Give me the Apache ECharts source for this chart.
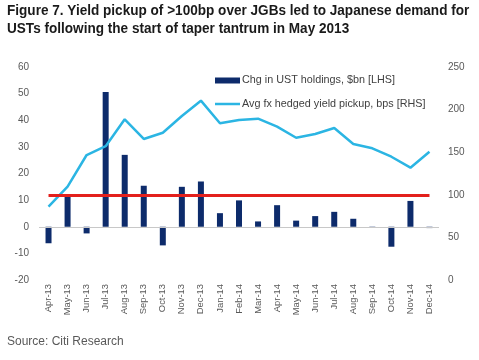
<!DOCTYPE html>
<html>
<head>
<meta charset="utf-8">
<script src="https://cdn.jsdelivr.net/npm/echarts@6/dist/echarts.min.js"></script>
<style>html,body{margin:0;padding:0;background:#fff;}#c{width:479px;height:360px;}</style>
</head>
<body>
<div id="c"></div>
<script>
const categories = ['Apr-13','May-13','Jun-13','Jul-13','Aug-13','Sep-13','Oct-13','Nov-13','Dec-13','Jan-14','Feb-14','Mar-14','Apr-14','May-14','Jun-14','Jul-14','Aug-14','Sep-14','Oct-14','Nov-14','Dec-14'];
const ustHoldings = [-6.2, 11.2, -2.5, 50.6, 27, 15.4, -7, 15, 17, 5.1, 9.9, 2.0, 8.1, 2.3, 4.0, 5.6, 3.0, -0.3, -7.5, 9.7, -0.5];
const yieldPickup = [86, 109.5, 146.7, 157, 188.6, 165.5, 172.9, 192.5, 210.5, 184, 187.8, 189.3, 180, 167, 171.4, 178.4, 159.6, 154.6, 144.7, 131.8, 150.6];
const threshold = 100;
const leftTicks = {min: -20, max: 60, interval: 10};
const rightTicks = {min: 0, max: 250, interval: 50};
const titleLines = ['Figure 7. Yield pickup of >100bp over JGBs led to Japanese demand for', 'USTs following the start of taper tantrum in May 2013'];
const sourceText = 'Source: Citi Research';

const FONT = "'Liberation Sans', Arial, sans-serif";
const chart = echarts.init(document.getElementById('c'));
chart.setOption({
  animation: false,
  backgroundColor: '#fff',
  graphic: [{
    type: 'text', x: 7, y: 3, scaleX: 0.905,
    style: {text: titleLines[0], font: 'bold 15px ' + FONT, fill: '#1a1a1a', verticalAlign: 'top'}
  }, {
    type: 'text', x: 7, y: 21, scaleX: 0.905,
    style: {text: titleLines[1], font: 'bold 15px ' + FONT, fill: '#1a1a1a', verticalAlign: 'top'}
  }, {
    type: 'text', x: 7, y: 336,
    style: {text: sourceText, font: '12px ' + FONT, fill: '#595959', verticalAlign: 'top'}
  }],
  legend: [{
    data: [{name: 'Chg in UST holdings, $bn [LHS]', icon: 'rect'}],
    left: 215, top: 75, padding: 0, itemWidth: 25, itemHeight: 6, itemGap: 4,
    textStyle: {fontFamily: FONT, fontSize: 10.8, color: '#404040', padding: [0,0,0,-3]}
  }, {
    data: [{name: 'Avg fx hedged yield pickup, bps [RHS]', icon: 'rect'}],
    left: 215, top: 98.5, padding: 0, itemWidth: 25, itemHeight: 2.5,
    textStyle: {fontFamily: FONT, fontSize: 10.8, color: '#404040', padding: [0,0,0,-3]}
  }],
  grid: {left: 39, right: 40, top: 67, bottom: 80},
  xAxis: {
    type: 'category', data: categories,
    axisLine: {show: false}, axisTick: {show: false},
    axisLabel: {rotate: 90, fontFamily: FONT, fontSize: 9.4, color: '#595959', margin: 4}
  },
  yAxis: [{
    type: 'value', min: leftTicks.min, max: leftTicks.max, interval: leftTicks.interval,
    splitLine: {show: false}, axisLine: {show: false}, axisTick: {show: false},
    axisLabel: {fontFamily: FONT, fontSize: 10, color: '#595959', margin: 10}
  }, {
    type: 'value', min: rightTicks.min, max: rightTicks.max, interval: rightTicks.interval,
    splitLine: {show: false}, axisLine: {show: false}, axisTick: {show: false},
    axisLabel: {fontFamily: FONT, fontSize: 10, color: '#595959', margin: 9}
  }],
  series: [{
    name: 'Chg in UST holdings, $bn [LHS]',
    type: 'bar', data: ustHoldings, yAxisIndex: 0, barWidth: 6,
    itemStyle: {color: '#0d2b6b'},
    markLine: {
      silent: true, symbol: 'none', label: {show: false},
      lineStyle: {color: '#c8c8c8', width: 1, type: 'solid'},
      data: [{yAxis: 0}]
    },
    z: 2
  }, {
    name: 'Avg fx hedged yield pickup, bps [RHS]',
    type: 'line', data: yieldPickup, yAxisIndex: 1,
    symbol: 'none', lineStyle: {color: '#2bb5e3', width: 2.5}, itemStyle: {color: '#2bb5e3'},
    markLine: {
      silent: true, symbol: 'none', label: {show: false},
      lineStyle: {color: '#e3201c', width: 3, type: 'solid'},
      data: [[{coord: [categories[0], threshold]}, {coord: [categories[categories.length-1], threshold]}]]
    },
    z: 3
  }]
});
</script>
</body>
</html>
